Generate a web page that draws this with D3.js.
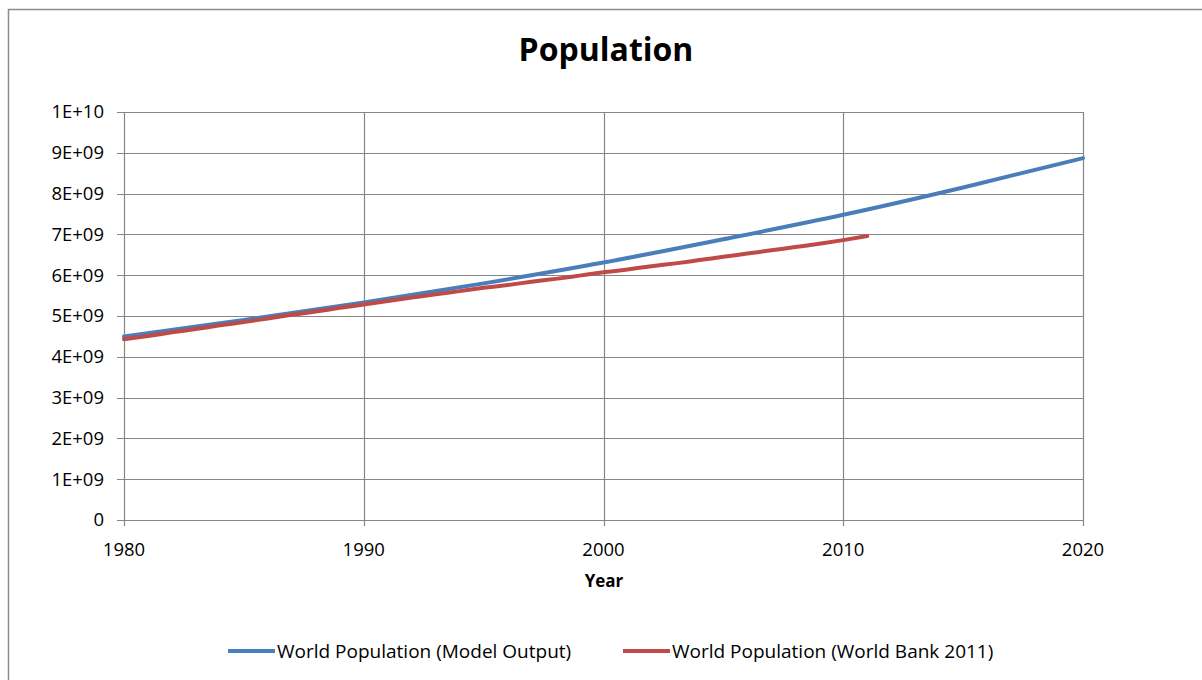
<!DOCTYPE html>
<html>
<head>
<meta charset="utf-8">
<script src="https://cdn.jsdelivr.net/npm/d3@7"></script>
<style>
  html, body { margin: 0; padding: 0; background: #fff; }
  svg text { font-family: "Open Sans", "Noto Sans", sans-serif; fill: #000; }
</style>
</head>
<body>
<svg id="chart" width="1202" height="680"></svg>
<script>
// Years and population values (persons)
const modelYears = [1980, 1985, 1990, 1995, 2000, 2005, 2010, 2015, 2020];
const modelPop = [4.50e9, 4.90e9, 5.33e9, 5.80e9, 6.31e9, 6.88e9, 7.48e9, 8.15e9, 8.87e9];

const wbYears = [1980, 1981, 1982, 1983, 1984, 1985, 1986, 1987, 1988, 1989,
                 1990, 1991, 1992, 1993, 1994, 1995, 1996, 1997, 1998, 1999,
                 2000, 2001, 2002, 2003, 2004, 2005, 2006, 2007, 2008, 2009,
                 2010, 2011];
const wbPop = [4.43e9, 4.51e9, 4.60e9, 4.68e9, 4.77e9, 4.85e9, 4.94e9, 5.03e9, 5.11e9, 5.20e9,
               5.28e9, 5.37e9, 5.45e9, 5.53e9, 5.61e9, 5.69e9, 5.76e9, 5.84e9, 5.91e9, 5.99e9,
               6.07e9, 6.14e9, 6.22e9, 6.29e9, 6.37e9, 6.45e9, 6.53e9, 6.61e9, 6.69e9, 6.77e9,
               6.86e9, 6.96e9];

const xTicks = [1980, 1990, 2000, 2010, 2020];
const yTicks = [0, 1e9, 2e9, 3e9, 4e9, 5e9, 6e9, 7e9, 8e9, 9e9, 1e10];
const yTickLabels = ["0", "1E+09", "2E+09", "3E+09", "4E+09", "5E+09", "6E+09", "7E+09", "8E+09", "9E+09", "1E+10"];

const seriesNames = ["World Population (Model Output)", "World Population (World Bank 2011)"];
const seriesColors = ["#4a7ebb", "#be4b48"];

const svg = d3.select("#chart");
const plotL = 124, plotR = 1083, plotT = 112, plotB = 520;

// Outer frame (top and left edges visible)
svg.append("path")
  .attr("d", "M8.5,680 L8.5,9.5 L1202,9.5")
  .attr("fill", "none").attr("stroke", "#8c8c8c").attr("stroke-width", 1.5);

const x = d3.scaleLinear().domain([1980, 2020]).range([plotL, plotR]);
const y = d3.scaleLinear().domain([0, 1e10]).range([plotB, plotT]);

const gridColor = "#868686";

// Gridlines
svg.append("g").selectAll("line").data(yTicks).join("line")
  .attr("x1", plotL - 7).attr("x2", plotR)
  .attr("y1", d => Math.round(y(d)) + 0.5).attr("y2", d => Math.round(y(d)) + 0.5)
  .attr("stroke", gridColor).attr("stroke-width", 1.2);
svg.append("g").selectAll("line").data(xTicks).join("line")
  .attr("x1", d => Math.round(x(d)) + 0.5).attr("x2", d => Math.round(x(d)) + 0.5)
  .attr("y1", plotT).attr("y2", plotB + 6)
  .attr("stroke", gridColor).attr("stroke-width", 1.2);

// Y tick labels
svg.append("g").selectAll("text").data(yTicks).join("text")
  .attr("x", 104).attr("y", d => y(d))
  .attr("dy", "0.35em").attr("text-anchor", "end")
  .style("font-size", "18.5px")
  .text((d, i) => yTickLabels[i]);

// X tick labels
svg.append("g").selectAll("text").data(xTicks).join("text")
  .attr("x", d => x(d)).attr("y", 550)
  .attr("dy", "0.35em").attr("text-anchor", "middle")
  .style("font-size", "18.5px")
  .text(d => d);

// Axis title
svg.append("text").attr("x", 604).attr("y", 581).attr("dy", "0.35em")
  .attr("text-anchor", "middle").style("font-size", "17px").style("font-weight", "bold")
  .text("Year");

// Chart title
svg.append("text").attr("x", 606).attr("y", 50).attr("dy", "0.35em")
  .attr("text-anchor", "middle").style("font-size", "32px").style("font-weight", "bold")
  .text("Population");

// Series lines
const line = d3.line().x(d => x(d[0])).y(d => y(d[1])).curve(d3.curveMonotoneX);
const series = [
  d3.zip(modelYears, modelPop),
  d3.zip(wbYears, wbPop)
];
svg.append("g").selectAll("path").data(series).join("path")
  .attr("d", line)
  .attr("fill", "none")
  .attr("stroke", (d, i) => seriesColors[i])
  .attr("stroke-width", 4)
  .attr("stroke-linecap", "round");

// Legend
const legendX = [228, 623];
const legend = svg.append("g").selectAll("g").data(seriesNames).join("g")
  .attr("transform", (d, i) => `translate(${legendX[i]},651)`);
legend.append("line").attr("x1", 0).attr("x2", 47).attr("y1", 0).attr("y2", 0)
  .attr("stroke", (d, i) => seriesColors[i]).attr("stroke-width", 4);
legend.append("text").attr("x", 49).attr("y", 0).attr("dy", "0.35em")
  .style("font-size", "19px").text(d => d);
</script>
</body>
</html>
